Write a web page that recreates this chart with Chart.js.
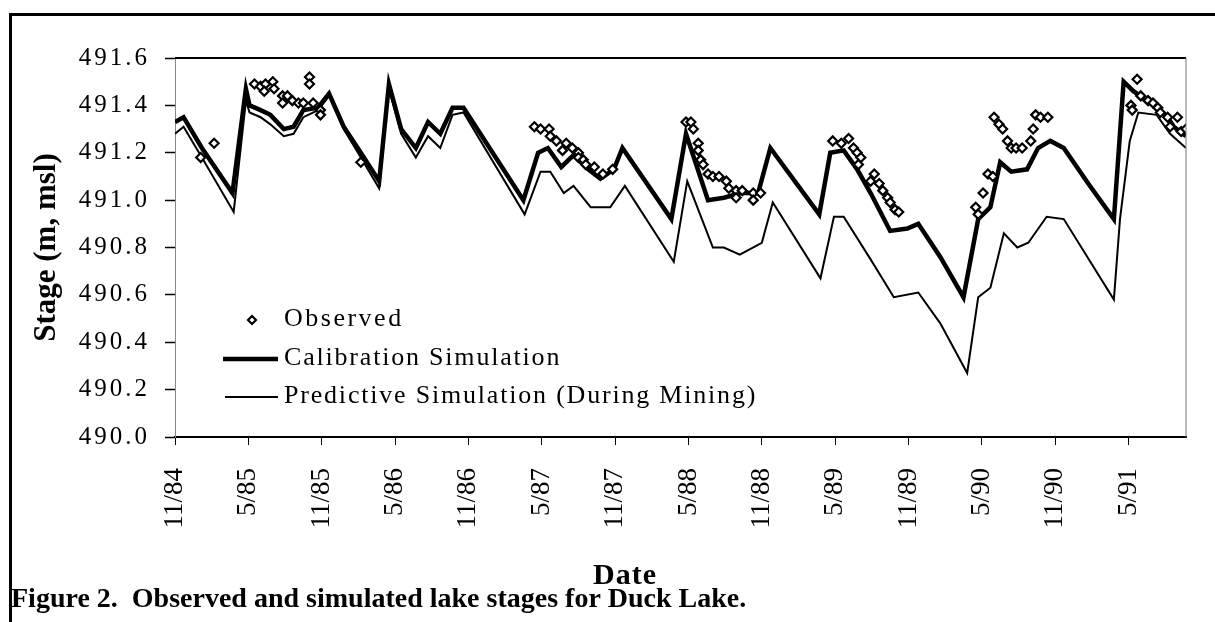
<!DOCTYPE html>
<html>
<head>
<meta charset="utf-8">
<script src="https://cdn.jsdelivr.net/npm/chart.js@4.4.0/dist/chart.umd.min.js"></script>
<style>
  html, body { margin: 0; padding: 0; background: #fff; }
  #wrap { position: relative; width: 1215px; height: 622px; }
</style>
</head>
<body>
<div id="wrap"><canvas id="stageChart"></canvas></div>
<script>
// x values are months counted from November 1984
const tickMonths = [0, 6, 12, 18, 24, 30, 36, 42, 48, 54, 60, 66, 72, 78];
const tickLabels = ['11/84', '5/85', '11/85', '5/86', '11/86', '5/87', '11/87',
                    '5/88', '11/88', '5/89', '11/89', '5/90', '11/90', '5/91'];
const stageTicks = [490.0, 490.2, 490.4, 490.6, 490.8, 491.0, 491.2, 491.4, 491.6];

const calMonths = [0, 0.7, 2.2, 4.7, 5.8, 6.1, 7.0, 7.8, 8.9, 9.7, 10.5, 11.7, 12.6, 13.8,
  15.2, 16.7, 17.5, 18.5, 19.7, 20.7, 21.7, 22.7, 23.6, 28.5, 29.7, 30.5, 31.6, 32.6,
  33.8, 34.8, 35.9, 36.6, 40.6, 41.8, 43.6, 44.9, 46.3, 47.7, 48.7, 52.7, 53.6, 54.7,
  55.8, 56.9, 58.5, 59.9, 60.8, 62.6, 64.5, 65.7, 66.7, 67.5, 68.4, 69.7, 70.6, 71.6,
  72.7, 74.7, 76.8, 77.6, 78.4, 79.8, 81.2, 81.7, 82.7];
const calStage = [491.33, 491.35, 491.22, 491.03, 491.47, 491.40, 491.38, 491.36, 491.30,
  491.31, 491.38, 491.39, 491.45, 491.31, 491.20, 491.08, 491.49, 491.30, 491.22, 491.33,
  491.28, 491.39, 491.39, 491.00, 491.20, 491.22, 491.14, 491.19, 491.13, 491.09, 491.13,
  491.22, 490.92, 491.28, 491.00, 491.01, 491.03, 491.03, 491.22, 490.94, 491.20, 491.21,
  491.13, 491.03, 490.87, 490.88, 490.90, 490.76, 490.59, 490.92, 490.97, 491.16, 491.12,
  491.13, 491.22, 491.25, 491.22, 491.07, 490.92, 491.50, 491.46, 491.41, 491.35, 491.31,
  491.27];

const predMonths = [0, 0.7, 2.2, 4.8, 5.8, 6.1, 7.0, 7.8, 8.9, 9.7, 10.5, 11.7, 12.6, 13.8,
  15.2, 16.7, 17.5, 18.5, 19.7, 20.7, 21.7, 22.7, 23.6, 28.6, 29.9, 30.7, 31.8, 32.6,
  34.0, 35.6, 36.8, 40.8, 41.9, 42.2, 44.0, 44.9, 46.2, 48.0, 48.9, 52.8, 53.9, 54.7,
  56.9, 58.8, 60.8, 62.6, 64.8, 65.7, 66.7, 67.8, 68.9, 69.8, 71.3, 72.7, 76.8, 77.3,
  78.1, 78.8, 80.3, 81.4, 82.7];
const predStage = [491.28, 491.31, 491.18, 490.95, 491.42, 491.37, 491.35, 491.32, 491.27,
  491.28, 491.35, 491.38, 491.44, 491.30, 491.18, 491.05, 491.47, 491.28, 491.18, 491.27,
  491.22, 491.36, 491.37, 490.94, 491.12, 491.12, 491.03, 491.06, 490.97, 490.97, 491.06,
  490.74, 491.08, 491.04, 490.80, 490.80, 490.77, 490.82, 490.99, 490.67, 490.93, 490.93,
  490.75, 490.59, 490.61, 490.48, 490.27, 490.59, 490.63, 490.86, 490.80, 490.82, 490.93,
  490.92, 490.58, 490.92, 491.25, 491.37, 491.36, 491.28, 491.22];

const obsMonths = [2.1, 3.2, 6.5, 7.0, 7.4, 8.0, 7.3, 8.1, 8.8, 9.2, 8.8, 9.6, 10.1, 10.5,
  11.0, 11.0, 11.3, 11.9, 11.9, 15.2,
  29.4, 29.9, 30.6, 30.7, 31.2, 32.0, 31.7, 32.5, 33.0, 33.0, 33.4, 33.6, 34.3, 35.0, 35.8,
  41.8, 42.2, 42.4, 42.8, 42.8, 43.0, 43.2, 43.6, 44.0, 44.5, 45.1, 45.3, 45.9, 46.4, 45.9,
  47.3, 47.3, 47.9,
  53.8, 54.5, 55.1, 55.5, 55.8, 56.1, 55.9, 57.2, 56.9, 57.6, 57.9, 58.3, 58.5, 58.9, 59.2,
  65.5, 65.7, 66.1, 66.5, 66.9, 67.0, 67.4, 67.7, 68.1, 68.4, 68.8, 69.3, 70.0, 70.2, 70.4,
  70.8, 71.4,
  78.7, 78.2, 78.3, 79.0, 79.6, 80.0, 80.4, 80.6, 81.2, 81.4, 82.0, 82.3, 82.7];
const obsStage = [491.18, 491.24, 491.49, 491.48, 491.49, 491.50, 491.46, 491.47, 491.44,
  491.44, 491.41, 491.42, 491.41, 491.41, 491.52, 491.49, 491.41, 491.38, 491.36, 491.16,
  491.31, 491.30, 491.30, 491.27, 491.25, 491.24, 491.21, 491.22, 491.20, 491.18, 491.17,
  491.15, 491.14, 491.11, 491.13,
  491.33, 491.33, 491.30, 491.24, 491.21, 491.17, 491.15, 491.11, 491.10, 491.10, 491.08,
  491.05, 491.04, 491.04, 491.01, 491.03, 491.00, 491.03,
  491.25, 491.24, 491.26, 491.22, 491.20, 491.18, 491.15, 491.11, 491.08, 491.07, 491.04,
  491.01, 490.99, 490.96, 490.95,
  490.97, 490.94, 491.03, 491.11, 491.10, 491.35, 491.32, 491.30, 491.25, 491.22, 491.22,
  491.22, 491.25, 491.30, 491.36, 491.35, 491.35,
  491.51, 491.40, 491.38, 491.44, 491.42, 491.41, 491.39, 491.37, 491.35, 491.31, 491.35,
  491.29, 491.30];

const serif = '"Liberation Serif", "Times New Roman", serif';

function toPoints(xs, ys) {
    return xs.map((x, i) => ({ x: x, y: ys[i] }));
}

function diamond(ctx, x, y, r) {
    ctx.beginPath();
    ctx.moveTo(x, y - r);
    ctx.lineTo(x + r, y);
    ctx.lineTo(x, y + r);
    ctx.lineTo(x - r, y);
    ctx.closePath();
    ctx.fillStyle = '#fff';
    ctx.fill();
    ctx.stroke();
}

// frame, legend inside the plot, x title and caption
const decorations = {
    id: 'decorations',
    beforeDraw(chart) {
        chart.ctx.letterSpacing = '0px';
    },
    afterDatasetsDraw(chart) {
        // y tick labels are drawn after this, spaced like the scan
        chart.ctx.letterSpacing = '3px';
    },
    afterDraw(chart) {
        const ctx = chart.ctx;
        const a = chart.chartArea;
        ctx.save();
        ctx.letterSpacing = '0px';

        ctx.strokeStyle = '#000';
        ctx.lineWidth = 2;
        ctx.beginPath();
        ctx.moveTo(a.left, a.top);
        ctx.lineTo(a.right, a.top);
        ctx.stroke();
        ctx.strokeStyle = '#777';
        ctx.lineWidth = 1;
        ctx.beginPath();
        ctx.moveTo(a.right, a.top);
        ctx.lineTo(a.right, a.bottom);
        ctx.stroke();

        ctx.fillStyle = '#000';
        ctx.fillRect(9, 13, 1206, 3);
        ctx.fillRect(9, 13, 3, 609);

        // legend
        ctx.strokeStyle = '#000';
        ctx.lineWidth = 2.2;
        diamond(ctx, 252, 320, 4);
        ctx.lineWidth = 4.5;
        ctx.beginPath();
        ctx.moveTo(223, 359);
        ctx.lineTo(278, 359);
        ctx.stroke();
        ctx.lineWidth = 2;
        ctx.beginPath();
        ctx.moveTo(225, 397);
        ctx.lineTo(278, 397);
        ctx.stroke();

        ctx.fillStyle = '#000';
        ctx.textAlign = 'left';
        ctx.textBaseline = 'alphabetic';
        ctx.font = '26px ' + serif;
        ctx.letterSpacing = '2.5px';
        ctx.fillText('Observed', 284, 326);
        ctx.letterSpacing = '1.8px';
        ctx.fillText('Calibration Simulation', 284, 365);
        ctx.fillText('Predictive Simulation (During Mining)', 284, 403);

        ctx.letterSpacing = '1px';
        ctx.font = 'bold 30px ' + serif;
        ctx.textAlign = 'center';
        ctx.fillText('Date', 625, 584);

        ctx.letterSpacing = '0px';
        ctx.textAlign = 'left';
        ctx.font = 'bold 28px ' + serif;
        ctx.fillText('Figure 2.  Observed and simulated lake stages for Duck Lake.', 11, 607);
        ctx.restore();
    }
};

const chart = new Chart(document.getElementById('stageChart').getContext('2d'), {
    type: 'line',
    data: {
        datasets: [{
            label: 'Observed',
            data: toPoints(obsMonths, obsStage),
            showLine: false,
            pointStyle: 'rectRot',
            pointRadius: 4.5,
            pointBorderWidth: 2.2,
            pointBackgroundColor: '#fff',
            pointBorderColor: '#000',
            order: 0
        }, {
            label: 'Calibration Simulation',
            data: toPoints(calMonths, calStage),
            borderColor: '#000',
            borderWidth: 4.5,
            pointRadius: 0,
            tension: 0,
            order: 1
        }, {
            label: 'Predictive Simulation (During Mining)',
            data: toPoints(predMonths, predStage),
            borderColor: '#000',
            borderWidth: 2,
            pointRadius: 0,
            tension: 0,
            order: 2
        }]
    },
    options: {
        responsive: true,
        maintainAspectRatio: false,
        animation: false,
        layout: { padding: { top: 58, right: 29, bottom: 22, left: 0 } },
        plugins: {
            legend: { display: false },
            tooltip: { enabled: false }
        },
        scales: {
            x: {
                type: 'linear',
                min: 0,
                max: 82.7,
                afterBuildTicks: s => { s.ticks = tickMonths.map(v => ({ value: v })); },
                afterFit: s => { s.height = 163; },
                grid: {
                    drawOnChartArea: false,
                    drawTicks: true,
                    tickLength: 8,
                    tickColor: '#000',
                    tickWidth: 1
                },
                border: { display: true, color: '#000', width: 2 },
                ticks: {
                    autoSkip: false,
                    minRotation: 90,
                    maxRotation: 90,
                    padding: 23,
                    color: '#000',
                    font: { family: serif, size: 27 },
                    callback: (value, index) => tickLabels[index]
                }
            },
            y: {
                min: 490,
                max: 491.6,
                afterBuildTicks: s => { s.ticks = stageTicks.map(v => ({ value: v })); },
                afterFit: s => { s.width = 175; },
                grid: {
                    drawOnChartArea: false,
                    drawTicks: true,
                    tickLength: 10,
                    tickColor: '#000',
                    tickWidth: 1.5
                },
                border: { display: true, color: '#888', width: 1, dash: [5, 3] },
                ticks: {
                    padding: 15,
                    z: 1,
                    color: '#000',
                    font: { family: serif, size: 25 },
                    callback: value => value.toFixed(1)
                },
                title: {
                    display: true,
                    text: 'Stage (m, msl)',
                    color: '#000',
                    padding: { top: 28, bottom: 0 },
                    font: { family: serif, size: 31, weight: 'bold' }
                }
            }
        }
    },
    plugins: [decorations]
});
</script>
</body>
</html>
